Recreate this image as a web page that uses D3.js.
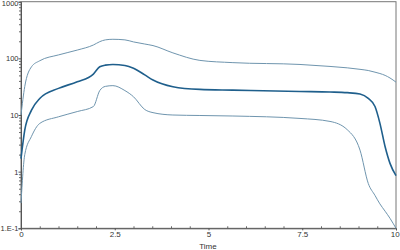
<!DOCTYPE html>
<html>
<head>
<meta charset="utf-8">
<script src="https://cdn.jsdelivr.net/npm/d3@7"></script>
<style>
  body { margin: 0; background: #fff; }
  text { font-family: "Liberation Sans", Arial, sans-serif; }
</style>
</head>
<body>
<div id="container"></div>
<script>
const time   = [0, 0.1, 0.28, 0.5, 1.0, 1.5, 1.93, 2.1, 2.25, 2.45, 2.77, 3.0, 3.3, 3.52, 4.05, 4.77, 5.65, 7.44, 8.24, 8.7, 9.04, 9.26, 9.44, 9.57, 9.71, 9.84, 10];
const median = [1.7, 5.4, 12.2, 19.6, 29.5, 38.6, 52.8, 71, 76, 78, 75, 67, 51, 41.4, 31.6, 28.3, 27.5, 26, 25.5, 24.8, 23.4, 19.6, 14.1, 7.2, 2.75, 1.4, 0.85];
const upper  = [10, 31.8, 71, 90.7, 115, 140, 172, 197, 212, 217, 212, 195, 179, 168, 125, 92, 84, 78, 72, 68, 64, 61, 57, 54, 50, 45, 38];
const lower  = [0.28, 2.0, 4.2, 7.1, 9.3, 11.5, 14.1, 27, 32, 33, 27, 21, 12.5, 11, 10, 9.8, 9.6, 8.7, 7.7, 5.5, 2.4, 0.62, 0.38, 0.27, 0.2, 0.15, 0.1];
const xTicks = [0, 2.5, 5, 7.5, 10];
const yTicks = [0.1, 1, 10, 100, 1000];
const yTickLabels = ["1.E-1", "1", "10", "100", "1000"];

const w = 400, h = 250;
const padLeft = 21, padRight = 396, padTop = 1.7, padBottom = 228.3;

const svg = d3.select('#container')
  .append('svg')
  .attr('width', w)
  .attr('height', h);

const xScale = d3.scaleLinear().domain([0, 10]).range([padLeft, padRight]);
const yScale = d3.scaleLog().domain([0.1, 1000]).range([padBottom, padTop]);

// frame
svg.append('rect')
  .attr('x', padLeft).attr('y', padTop)
  .attr('width', padRight - padLeft).attr('height', padBottom - padTop)
  .attr('fill', 'none').attr('stroke', '#777').attr('stroke-width', 1);

// minor ticks
const yMinor = [];
[0.1, 1, 10, 100].forEach(d => { for (let k = 2; k <= 9; k++) yMinor.push(d * k); });
svg.append('g')
  .attr('transform', 'translate(' + padLeft + ',0)')
  .call(d3.axisLeft(yScale).tickValues(yMinor).tickSize(2).tickFormat(''))
  .call(g => g.select('.domain').remove())
  .call(g => g.selectAll('line').attr('stroke', '#666'));

const xMinor = d3.range(0.5, 10, 0.5).filter(d => d % 2.5 !== 0);
svg.append('g')
  .attr('transform', 'translate(0,' + padBottom + ')')
  .call(d3.axisBottom(xScale).tickValues(xMinor).tickSize(-2).tickFormat(''))
  .call(g => g.select('.domain').remove())
  .call(g => g.selectAll('line').attr('stroke', '#666'));

// major axes
const yAxis = d3.axisLeft(yScale)
  .tickValues(yTicks)
  .tickSize(2.5)
  .tickPadding(0)
  .tickFormat((d, i) => yTickLabels[i]);
svg.append('g')
  .attr('id', 'y-axis')
  .attr('transform', 'translate(' + padLeft + ',0)')
  .call(yAxis)
  .call(g => g.select('.domain').attr('stroke', '#555'))
  .call(g => g.selectAll('line').attr('stroke', '#555'))
  .call(g => g.selectAll('text').attr('font-size', 7.5).attr('fill', '#333'))
  .call(g => g.selectAll('.tick text').filter(d => d === 1000).attr('dy', '0.55em'));

const xAxis = d3.axisBottom(xScale)
  .tickValues(xTicks)
  .tickSize(2)
  .tickPadding(1)
  .tickFormat(d3.format('~g'));
svg.append('g')
  .attr('id', 'x-axis')
  .attr('transform', 'translate(0,' + padBottom + ')')
  .call(xAxis)
  .call(g => g.select('.domain').attr('stroke', '#555'))
  .call(g => g.selectAll('line').attr('stroke', '#555'))
  .call(g => g.selectAll('text').attr('font-size', 8).attr('fill', '#333'))
  .call(g => g.selectAll('.tick text').filter(d => d === 10).attr('text-anchor', 'end').attr('dx', '0.4em'));

svg.append('text')
  .attr('x', 208)
  .attr('y', 248.5)
  .attr('text-anchor', 'middle')
  .attr('font-size', 8)
  .attr('fill', '#333')
  .text('Time');

// lines
const line = d3.line()
  .x((d, i) => xScale(time[i]))
  .y(d => yScale(d))
  .curve(d3.curveMonotoneX);

const series = [
  { values: upper, color: '#6f95ae', width: 1 },
  { values: lower, color: '#6f95ae', width: 1 },
  { values: median, color: '#1f5f8c', width: 1.6 }
];
svg.selectAll('path.series')
  .data(series)
  .enter()
  .append('path')
  .attr('class', 'series')
  .attr('d', d => line(d.values))
  .attr('fill', 'none')
  .attr('stroke', d => d.color)
  .attr('stroke-width', d => d.width);
</script>
</body>
</html>
